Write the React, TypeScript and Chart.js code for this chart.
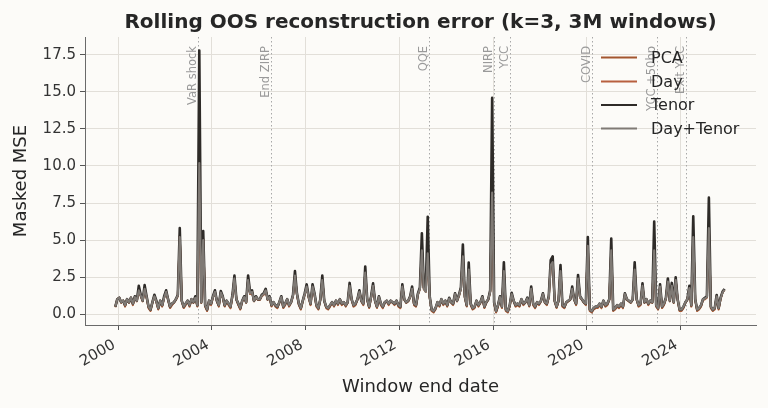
import { useEffect, useRef } from "react";
import { Chart, registerables } from "chart.js";

Chart.register(...registerables);

// Monthly rolling windows, first window ends November 1999
const startYear = 1999;
const startMonth = 10; // 0-based month index (November)

const seriesNames = ["PCA", "Day", "Tenor", "Day+Tenor"];
const seriesColors = ["#a3562f", "#b8603f", "#2e2b28", "#7f7a75"];

const pcaValues = [
  0.45, 1.0,
  1.1, 0.75, 0.9, 0.5, 1.0, 0.75, 1.1, 0.6, 1.15, 0.85, 1.6, 1.2,
  0.85, 1.7, 1.1, 0.4, 0.2, 0.75, 1.2, 0.8, 0.3, 0.85, 0.5, 1.1,
  1.5, 0.95, 0.4, 0.6, 0.75, 0.95, 1.2, 5.3, 0.85, 0.4, 0.6, 0.85,
  0.5, 0.95, 0.75, 1.1, 0.5, 10.0, 0.75, 5.1, 0.5, 0.2, 0.85, 0.6,
  1.1, 1.5, 0.85, 0.5, 1.45, 1.1, 0.5, 0.85, 0.6, 0.4, 1.2, 2.4,
  0.95, 0.6, 0.3, 0.85, 1.1, 0.75, 2.3, 1.35, 1.5, 0.85, 1.1, 0.95,
  0.95, 1.2, 1.3, 1.6, 0.95, 1.1, 0.5, 0.75, 0.5, 0.4, 0.75, 1.1,
  0.4, 0.6, 0.95, 0.5, 0.75, 1.2, 2.6, 1.3, 0.6, 0.3, 0.85, 1.3,
  1.85, 1.1, 0.6, 1.85, 1.3, 0.5, 0.3, 0.95, 2.3, 0.85, 0.4, 0.3,
  0.5, 0.75, 0.5, 0.85, 0.6, 0.95, 0.6, 0.75, 0.5, 0.75, 1.9, 0.95,
  0.5, 0.6, 0.95, 1.5, 0.85, 0.6, 2.8, 0.95, 0.4, 1.1, 1.9, 0.85,
  0.4, 1.1, 0.6, 0.4, 0.75, 0.85, 0.6, 0.85, 0.75, 0.6, 0.85, 0.5,
  0.4, 1.85, 0.95, 0.75, 0.85, 1.1, 1.7, 0.6, 0.5, 1.3, 1.7, 4.4,
  1.7, 1.5, 4.2, 1.1, 0.2, 0.1, 0.3, 0.75, 0.5, 0.95, 0.6, 0.85,
  0.5, 1.0, 0.75, 0.6, 1.3, 0.85, 1.2, 1.7, 3.95, 1.1, 0.5, 3.0,
  0.6, 0.3, 0.4, 0.85, 0.5, 0.75, 1.1, 0.4, 0.75, 0.95, 1.5, 8.3,
  0.7, 0.1, 0.5, 1.1, 0.4, 2.95, 0.2, 0.1, 0.5, 1.3, 0.85, 0.5,
  0.6, 0.5, 0.95, 0.6, 0.75, 1.0, 0.5, 1.7, 0.6, 0.4, 0.75, 0.6,
  0.85, 1.3, 0.75, 0.6, 1.1, 3.3, 3.5, 0.85, 0.4, 0.85, 2.9, 0.5,
  0.4, 0.75, 0.85, 0.95, 1.7, 0.95, 0.6, 2.4, 1.1, 0.95, 0.75, 0.6,
  4.6, 0.2, 0.1, 0.3, 0.4, 0.4, 0.6, 0.4, 0.85, 0.5, 0.6, 0.95,
  4.3, 0.2, 0.3, 0.5, 0.4, 0.6, 0.4, 1.3, 0.95, 0.85, 0.75, 0.95,
  3.0, 0.95, 0.5, 0.6, 1.9, 0.75, 0.95, 0.6, 0.85, 0.75, 4.4, 0.5,
  0.3, 1.85, 0.4, 0.6, 1.0, 2.2, 0.85, 1.9, 0.75, 2.3, 0.95, 0.2,
  0.2, 0.4, 0.75, 0.95, 1.75, 0.5, 5.3, 0.95, 0.2, 0.3, 0.5, 0.95,
  1.0, 1.1, 5.9, 0.4, 0.2, 0.3, 1.2, 0.3, 1.0, 1.45, 1.65,
];

const dayValues = [
  0.5, 1.0,
  1.1, 0.8, 0.9, 0.55, 1.0, 0.8, 1.1, 0.65, 1.15, 0.9, 1.6, 1.25,
  0.9, 1.7, 1.15, 0.45, 0.25, 0.8, 1.2, 0.85, 0.35, 0.9, 0.55, 1.1,
  1.5, 1.0, 0.45, 0.65, 0.8, 1.0, 1.25, 5.25, 0.9, 0.45, 0.65, 0.9,
  0.55, 1.0, 0.8, 1.1, 0.55, 10.1, 0.8, 5.05, 0.55, 0.25, 0.9, 0.65,
  1.15, 1.5, 0.9, 0.55, 1.45, 1.15, 0.55, 0.9, 0.65, 0.45, 1.25, 2.4,
  1.0, 0.65, 0.35, 0.9, 1.15, 0.8, 2.3, 1.4, 1.5, 0.9, 1.15, 1.0,
  1.0, 1.25, 1.35, 1.6, 1.0, 1.15, 0.55, 0.8, 0.55, 0.45, 0.8, 1.15,
  0.45, 0.65, 1.0, 0.55, 0.8, 1.25, 2.6, 1.35, 0.65, 0.35, 0.9, 1.35,
  1.85, 1.15, 0.65, 1.85, 1.35, 0.55, 0.35, 1.0, 2.3, 0.9, 0.45, 0.35,
  0.55, 0.8, 0.55, 0.9, 0.65, 1.0, 0.65, 0.8, 0.55, 0.8, 1.9, 1.0,
  0.55, 0.65, 1.0, 1.5, 0.9, 0.65, 2.8, 1.0, 0.45, 1.15, 1.9, 0.9,
  0.45, 1.15, 0.65, 0.45, 0.8, 0.9, 0.65, 0.9, 0.8, 0.65, 0.9, 0.55,
  0.45, 1.85, 1.0, 0.8, 0.9, 1.15, 1.7, 0.65, 0.55, 1.35, 1.7, 4.35,
  1.7, 1.5, 4.15, 1.15, 0.25, 0.15, 0.35, 0.8, 0.55, 1.0, 0.65, 0.9,
  0.55, 1.05, 0.8, 0.65, 1.35, 0.9, 1.25, 1.7, 3.9, 1.15, 0.55, 3.0,
  0.65, 0.35, 0.45, 0.9, 0.55, 0.8, 1.15, 0.45, 0.8, 1.0, 1.5, 8.25,
  0.75, 0.15, 0.55, 1.15, 0.45, 2.9, 0.25, 0.15, 0.55, 1.35, 0.9, 0.55,
  0.65, 0.55, 1.0, 0.65, 0.8, 1.05, 0.55, 1.7, 0.65, 0.45, 0.8, 0.65,
  0.9, 1.35, 0.8, 0.65, 1.15, 3.3, 3.5, 0.9, 0.45, 0.9, 2.9, 0.55,
  0.45, 0.8, 0.9, 1.0, 1.7, 1.0, 0.65, 2.4, 1.15, 1.0, 0.8, 0.65,
  4.6, 0.25, 0.15, 0.35, 0.45, 0.45, 0.65, 0.45, 0.9, 0.55, 0.65, 1.0,
  4.3, 0.25, 0.35, 0.55, 0.45, 0.65, 0.45, 1.35, 1.0, 0.9, 0.8, 1.0,
  3.0, 1.0, 0.55, 0.65, 1.9, 0.8, 1.0, 0.65, 0.9, 0.8, 4.35, 0.55,
  0.35, 1.85, 0.45, 0.65, 1.05, 2.2, 0.9, 1.9, 0.8, 2.3, 1.0, 0.25,
  0.25, 0.45, 0.8, 1.0, 1.75, 0.55, 5.25, 1.0, 0.25, 0.35, 0.55, 1.0,
  1.05, 1.15, 5.85, 0.45, 0.25, 0.35, 1.2, 0.35, 1.05, 1.45, 1.65,
];

const tenorValues = [
  0.5, 1.0,
  1.1, 0.8, 0.9, 0.6, 1.0, 0.8, 1.1, 0.7, 1.2, 0.9, 1.9, 1.3,
  0.9, 1.95, 1.2, 0.5, 0.3, 0.8, 1.3, 0.9, 0.4, 0.9, 0.6, 1.2,
  1.6, 1.0, 0.5, 0.7, 0.8, 1.0, 1.3, 5.8, 0.9, 0.5, 0.7, 0.9,
  0.6, 1.0, 0.8, 1.2, 0.6, 17.8, 0.8, 5.6, 0.6, 0.3, 0.9, 0.7,
  1.2, 1.6, 0.9, 0.6, 1.55, 1.2, 0.6, 0.9, 0.7, 0.5, 1.3, 2.6,
  1.0, 0.7, 0.4, 0.9, 1.2, 0.8, 2.6, 1.5, 1.6, 0.9, 1.2, 1.0,
  1.0, 1.3, 1.4, 1.7, 1.0, 1.2, 0.6, 0.8, 0.6, 0.5, 0.8, 1.2,
  0.5, 0.7, 1.0, 0.6, 0.8, 1.3, 2.9, 1.4, 0.7, 0.4, 0.9, 1.4,
  2.0, 1.2, 0.7, 2.0, 1.4, 0.6, 0.4, 1.0, 2.6, 0.9, 0.5, 0.4,
  0.6, 0.8, 0.6, 0.9, 0.7, 1.0, 0.7, 0.8, 0.6, 0.8, 2.1, 1.0,
  0.6, 0.7, 1.0, 1.6, 0.9, 0.7, 3.2, 1.0, 0.5, 1.2, 2.07, 0.9,
  0.5, 1.2, 0.7, 0.5, 0.8, 0.9, 0.7, 0.9, 0.8, 0.7, 0.9, 0.6,
  0.5, 2.0, 1.0, 0.8, 0.9, 1.2, 1.85, 0.7, 0.6, 1.4, 1.8, 5.45,
  1.8, 1.6, 6.57, 1.2, 0.3, 0.2, 0.4, 0.8, 0.6, 1.0, 0.7, 0.9,
  0.6, 1.1, 0.8, 0.7, 1.4, 0.9, 1.3, 1.8, 4.7, 1.2, 0.6, 3.47,
  0.7, 0.4, 0.5, 0.9, 0.6, 0.8, 1.2, 0.5, 0.8, 1.0, 1.6, 14.6,
  0.8, 0.2, 0.6, 1.2, 0.5, 3.5, 0.3, 0.2, 0.6, 1.44, 0.9, 0.6,
  0.7, 0.6, 1.0, 0.7, 0.8, 1.1, 0.6, 1.85, 0.7, 0.5, 0.8, 0.7,
  0.9, 1.4, 0.8, 0.7, 1.2, 3.65, 3.9, 0.9, 0.5, 0.9, 3.3, 0.6,
  0.5, 0.8, 0.9, 1.0, 1.85, 1.0, 0.7, 2.64, 1.2, 1.0, 0.8, 0.7,
  5.2, 0.3, 0.2, 0.4, 0.5, 0.5, 0.7, 0.5, 0.9, 0.6, 0.7, 1.0,
  5.1, 0.3, 0.4, 0.6, 0.5, 0.7, 0.5, 1.4, 1.0, 0.9, 0.8, 1.0,
  3.5, 1.0, 0.6, 0.7, 2.07, 0.8, 1.0, 0.7, 0.9, 0.8, 6.24, 0.6,
  0.4, 2.0, 0.5, 0.7, 1.1, 2.4, 0.9, 2.1, 0.8, 2.48, 1.0, 0.3,
  0.3, 0.5, 0.8, 1.0, 1.9, 0.6, 6.6, 1.0, 0.3, 0.4, 0.6, 1.0,
  1.1, 1.2, 7.86, 0.5, 0.3, 0.4, 1.28, 0.4, 1.1, 1.5, 1.7,
];

const dayTenorValues = [
  0.5, 1.0,
  1.1, 0.8, 0.9, 0.6, 1.0, 0.8, 1.1, 0.7, 1.15, 0.9, 1.6, 1.25,
  0.9, 1.7, 1.15, 0.5, 0.3, 0.8, 1.2, 0.85, 0.4, 0.9, 0.6, 1.1,
  1.5, 1.0, 0.5, 0.7, 0.8, 1.0, 1.25, 5.2, 0.9, 0.5, 0.7, 0.9,
  0.6, 1.0, 0.8, 1.1, 0.6, 10.2, 0.8, 5.0, 0.6, 0.3, 0.9, 0.7,
  1.15, 1.5, 0.9, 0.6, 1.45, 1.15, 0.6, 0.9, 0.7, 0.5, 1.25, 2.4,
  1.0, 0.7, 0.4, 0.9, 1.15, 0.8, 2.3, 1.4, 1.5, 0.9, 1.15, 1.0,
  1.0, 1.25, 1.35, 1.6, 1.0, 1.15, 0.6, 0.8, 0.6, 0.5, 0.8, 1.15,
  0.5, 0.7, 1.0, 0.6, 0.8, 1.25, 2.6, 1.35, 0.7, 0.4, 0.9, 1.35,
  1.85, 1.15, 0.7, 1.85, 1.35, 0.6, 0.4, 1.0, 2.3, 0.9, 0.5, 0.4,
  0.6, 0.8, 0.6, 0.9, 0.7, 1.0, 0.7, 0.8, 0.6, 0.8, 1.9, 1.0,
  0.6, 0.7, 1.0, 1.5, 0.9, 0.7, 2.8, 1.0, 0.5, 1.15, 1.9, 0.9,
  0.5, 1.15, 0.7, 0.5, 0.8, 0.9, 0.7, 0.9, 0.8, 0.7, 0.9, 0.6,
  0.5, 1.85, 1.0, 0.8, 0.9, 1.15, 1.7, 0.7, 0.6, 1.35, 1.7, 4.3,
  1.7, 1.5, 4.1, 1.15, 0.3, 0.2, 0.4, 0.8, 0.6, 1.0, 0.7, 0.9,
  0.6, 1.05, 0.8, 0.7, 1.35, 0.9, 1.25, 1.7, 3.9, 1.15, 0.6, 3.0,
  0.7, 0.4, 0.5, 0.9, 0.6, 0.8, 1.15, 0.5, 0.8, 1.0, 1.5, 8.2,
  0.8, 0.2, 0.6, 1.15, 0.5, 2.9, 0.3, 0.2, 0.6, 1.35, 0.9, 0.6,
  0.7, 0.6, 1.0, 0.7, 0.8, 1.05, 0.6, 1.7, 0.7, 0.5, 0.8, 0.7,
  0.9, 1.35, 0.8, 0.7, 1.15, 3.3, 3.5, 0.9, 0.5, 0.9, 2.9, 0.6,
  0.5, 0.8, 0.9, 1.0, 1.7, 1.0, 0.7, 2.4, 1.15, 1.0, 0.8, 0.7,
  4.6, 0.3, 0.2, 0.4, 0.5, 0.5, 0.7, 0.5, 0.9, 0.6, 0.7, 1.0,
  4.3, 0.3, 0.4, 0.6, 0.5, 0.7, 0.5, 1.35, 1.0, 0.9, 0.8, 1.0,
  3.0, 1.0, 0.6, 0.7, 1.9, 0.8, 1.0, 0.7, 0.9, 0.8, 4.3, 0.6,
  0.4, 1.85, 0.5, 0.7, 1.05, 2.2, 0.9, 1.9, 0.8, 2.3, 1.0, 0.3,
  0.3, 0.5, 0.8, 1.0, 1.75, 0.6, 5.2, 1.0, 0.3, 0.4, 0.6, 1.0,
  1.05, 1.15, 5.8, 0.5, 0.3, 0.4, 1.2, 0.4, 1.05, 1.45, 1.65,
];

const yTicks = [0, 2.5, 5, 7.5, 10, 12.5, 15, 17.5];
const xTicks = [2000, 2004, 2008, 2012, 2016, 2020, 2024];

const eventLabels = ["VaR shock", "End ZIRP", "QQE", "NIRP", "YCC", "COVID", "YCC +50bp", "Exit YCC"];
const eventDates = [2003.42, 2006.52, 2013.26, 2016.05, 2016.72, 2020.2, 2022.98, 2024.23];

const titleText = "Rolling OOS reconstruction error (k=3, 3M windows)";
const xLabel = "Window end date";
const yLabel = "Masked MSE";

const FONT = "'DejaVu Sans', sans-serif";
const BG = "#fcfbf8";

function toPoints(values: number[]) {
  return values.map((v, i) => ({ x: startYear + (startMonth + i + 0.5) / 12, y: v }));
}

export default function App() {
  const canvasRef = useRef<HTMLCanvasElement | null>(null);

  useEffect(() => {
    const canvas = canvasRef.current;
    if (!canvas) return;

    const decor = {
      id: "decor",
      beforeDraw(chart: any) {
        const ctx = chart.ctx;
        ctx.save();
        ctx.fillStyle = BG;
        ctx.fillRect(0, 0, chart.width, chart.height);
        ctx.restore();
      },
      beforeDatasetsDraw(chart: any) {
        const ctx = chart.ctx;
        const xs = chart.scales.x;
        const area = chart.chartArea;
        ctx.save();
        eventDates.forEach((d, i) => {
          const px = Math.round(xs.getPixelForValue(d)) + 0.5;
          ctx.strokeStyle = "#a8a8a8";
          ctx.lineWidth = 1;
          ctx.setLineDash([1.5, 2.5]);
          ctx.beginPath();
          ctx.moveTo(px, area.top);
          ctx.lineTo(px, area.bottom);
          ctx.stroke();
          ctx.setLineDash([]);
          ctx.save();
          ctx.translate(px - 3, 46);
          ctx.rotate(-Math.PI / 2);
          ctx.fillStyle = "#9a9a9a";
          ctx.font = `11.5px ${FONT}`;
          ctx.textAlign = "right";
          ctx.textBaseline = "alphabetic";
          ctx.fillText(eventLabels[i], 0, 0);
          ctx.restore();
        });
        ctx.restore();
      },
      afterDraw(chart: any) {
        const ctx = chart.ctx;
        const area = chart.chartArea;
        const cx = (area.left + area.right) / 2;
        ctx.save();
        // title
        ctx.fillStyle = "#262626";
        ctx.font = `bold 20px ${FONT}`;
        ctx.textAlign = "center";
        ctx.textBaseline = "alphabetic";
        ctx.fillText(titleText, cx, 28);
        // x label
        ctx.font = `18px ${FONT}`;
        ctx.fillStyle = "#262626";
        ctx.fillText(xLabel, cx, 392);
        // y label
        ctx.save();
        ctx.translate(26, (area.top + area.bottom) / 2);
        ctx.rotate(-Math.PI / 2);
        ctx.textAlign = "center";
        ctx.fillText(yLabel, 0, 0);
        ctx.restore();
        // legend
        const rows = [57.5, 81.5, 105, 128.5];
        chart.data.datasets.forEach((ds: any, i: number) => {
          ctx.strokeStyle = ds.borderColor;
          ctx.lineWidth = 2;
          ctx.beginPath();
          ctx.moveTo(601, rows[i]);
          ctx.lineTo(637, rows[i]);
          ctx.stroke();
          ctx.fillStyle = "#262626";
          ctx.font = `16px ${FONT}`;
          ctx.textAlign = "left";
          ctx.textBaseline = "middle";
          ctx.fillText(ds.label, 651, rows[i] + 1);
        });
        ctx.restore();
      },
    };

    const seriesValues = [pcaValues, dayValues, tenorValues, dayTenorValues];
    const drawOrder = [3, 2, 1, 0];
    const widths = [2.0, 2.0, 2.6, 2.1];

    const chart = new Chart(canvas, {
      type: "line",
      data: {
        datasets: seriesValues.map((vals, i) => ({
          label: seriesNames[i],
          data: toPoints(vals),
          borderColor: seriesColors[i],
          backgroundColor: seriesColors[i],
          borderWidth: widths[i],
          borderJoinStyle: "round",
          pointRadius: 0,
          tension: 0,
          fill: false,
          order: drawOrder[i],
        })),
      },
      options: {
        responsive: false,
        maintainAspectRatio: false,
        animation: false,
        devicePixelRatio: 1,
        layout: { padding: { left: 0, right: 12, top: 37, bottom: 0 } },
        plugins: {
          legend: { display: false },
          title: { display: false },
          tooltip: { enabled: false },
        },
        scales: {
          x: {
            type: "linear",
            min: 1998.58,
            max: 2027.22,
            afterBuildTicks: (s: any) => {
              s.ticks = xTicks.map((v) => ({ value: v }));
            },
            afterFit: (s: any) => {
              s.height = 83;
            },
            ticks: {
              autoSkip: false,
              minRotation: 30,
              maxRotation: 30,
              padding: 6,
              labelOffset: -4,
              color: "#333333",
              font: { family: FONT, size: 15 },
              callback: (v: any) => String(v),
            },
            grid: {
              color: "#e2dfd9",
              lineWidth: 1,
              tickColor: "#555555",
              tickLength: 5,
              tickWidth: 1,
            },
            border: { display: true, color: "#6a6a6a", width: 1 },
          },
          y: {
            type: "linear",
            min: -0.743,
            max: 18.716,
            afterBuildTicks: (s: any) => {
              s.ticks = yTicks.map((v) => ({ value: v }));
            },
            afterFit: (s: any) => {
              s.width = 85;
            },
            ticks: {
              padding: 4,
              color: "#333333",
              font: { family: FONT, size: 15 },
              callback: (v: any) => Number(v).toFixed(1),
            },
            grid: {
              color: "#e2dfd9",
              lineWidth: 1,
              tickColor: "#555555",
              tickLength: 5,
              tickWidth: 1,
            },
            border: { display: true, color: "#6a6a6a", width: 1 },
          },
        },
      },
      plugins: [decor],
    } as any);

    return () => chart.destroy();
  }, []);

  return (
    <div style={{ position: "absolute", left: 0, top: 0, width: 768, height: 408, background: BG }}>
      <canvas ref={canvasRef} width={768} height={408} style={{ display: "block" }} />
    </div>
  );
}
